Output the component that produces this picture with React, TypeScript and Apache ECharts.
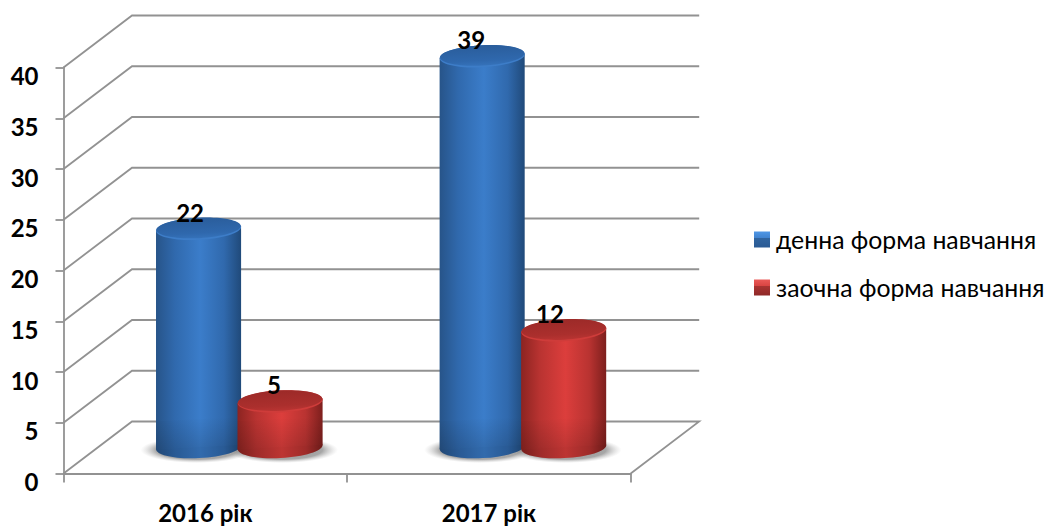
import React, { useEffect, useRef } from "react";
import * as echarts from "echarts";

const categories = ["2016 рік", "2017 рік"];
const dayStudy = [22, 39];
const distanceStudy = [5, 12];
const yTicks = [0, 5, 10, 15, 20, 25, 30, 35, 40];
const dayName = "денна форма навчання";
const distanceName = "заочна форма навчання";

const FONT = "Lato, 'Noto Sans', sans-serif";
const GRID_COLOR = "#929292";
const DEPTH_X = 68.5;
const DEPTH_Y = 52;
const TILT = 0.05;

const bodyGrad = (stops: string[]) => ({
  type: "linear", x: 0, y: 0, x2: 1, y2: 0,
  colorStops: [
    { offset: 0, color: stops[0] },
    { offset: 0.22, color: stops[1] },
    { offset: 0.52, color: stops[2] },
    { offset: 0.8, color: stops[1] },
    { offset: 1, color: stops[3] },
  ],
});
const vGrad = (stops: [number, string][]) => ({
  type: "linear", x: 0, y: 0, x2: 0, y2: 1,
  colorStops: stops.map(([offset, color]) => ({ offset, color })),
});

const palettes = [
  {
    body: bodyGrad(["#275489", "#3069ad", "#3b7dca", "#204a7a"]),
    top: vGrad([[0, "#2a5d9b"], [0.75, "#2f68ad"], [1, "#3572ba"]]),
    rim: "#3d7dc8",
    icon: vGrad([[0, "#4f97e6"], [0.42, "#3f82cf"], [0.43, "#30649f"], [1, "#2a5a94"]]),
  },
  {
    body: bodyGrad(["#8c2421", "#b93331", "#dc3e3c", "#7d1f1d"]),
    top: vGrad([[0, "#9c2a28"], [0.75, "#ab2f2d"], [1, "#b93432"]]),
    rim: "#cf3c3a",
    icon: vGrad([[0, "#ea5a58"], [0.42, "#d84341"], [0.43, "#a83331"], [1, "#8f2928"]]),
  },
];

const labelNudge = [[-8.5, -11], [-6, -13.7]];
const barShift = [-40.75, 40.75];

function cylinderRenderer(seriesIdx: number) {
  return (params: any, api: any) => {
    const cat = api.value(0);
    const v = api.value(1);
    const band = api.size([1, 0])[0];
    const rx = band * 0.15;
    const ry = 11;
    const c0 = api.coord([cat, 0]);
    const c1 = api.coord([cat, v]);
    const cx = c0[0] + 34 + barShift[seriesIdx];
    const yBot = c0[1] - 26.5;
    const yTop = c1[1] - 22;
    const d = rx * Math.sin(TILT);
    const p = palettes[seriesIdx];
    const tilted = (cy: number) => ({ rotation: TILT, originX: cx, originY: cy });
    const fadeTop = Math.max(yTop + ry, yBot - 28);
    const children: any[] = [
      { type: "ellipse", ...tilted(yBot), shape: { cx, cy: yBot, rx, ry }, style: { fill: p.body } },
      { type: "ellipse", ...tilted(yBot), shape: { cx, cy: yBot, rx, ry }, style: { fill: "rgba(0,0,0,0.14)" } },
      {
        type: "polygon",
        shape: { points: [[cx - rx, yTop + d], [cx + rx, yTop - d], [cx + rx, yBot - d], [cx - rx, yBot + d]] },
        style: { fill: p.body },
      },
      {
        type: "polygon",
        shape: { points: [[cx - rx, fadeTop + d], [cx + rx, fadeTop - d], [cx + rx, yBot - d], [cx - rx, yBot + d]] },
        style: { fill: vGrad([[0, "rgba(0,0,0,0)"], [1, "rgba(0,0,0,0.14)"]]) },
      },
      { type: "ellipse", ...tilted(yTop), shape: { cx, cy: yTop + 0.6, rx, ry }, style: { fill: p.rim } },
      { type: "ellipse", ...tilted(yTop), shape: { cx, cy: yTop - 0.3, rx: rx - 0.3, ry: ry - 0.8 }, style: { fill: p.top } },
      {
        type: "text",
        style: {
          x: cx + labelNudge[seriesIdx][params.dataIndex],
          y: yTop - ry - 5,
          text: String(v),
          fill: "#000",
          font: `bold 24px ${FONT}`,
          textAlign: "center",
          textVerticalAlign: "middle",
        },
      },
    ];
    return { type: "group", children };
  };
}

function shadowRenderer(seriesIdx: number) {
  return (_p: any, api: any) => {
    const cat = api.value(0);
    const c0 = api.coord([cat, 0]);
    const cx = c0[0] + 34 + barShift[seriesIdx];
    const extend = seriesIdx === 0 ? -2 : 2;
    return {
      type: "ellipse",
      shape: { cx: cx + extend, cy: c0[1] - 23.5, rx: 56, ry: 13 },
      style: {
        fill: {
          type: "radial", x: 0.5, y: 0.5, r: 0.5,
          colorStops: [
            { offset: 0, color: "rgba(90,90,90,0.7)" },
            { offset: 0.72, color: "rgba(95,95,95,0.55)" },
            { offset: 1, color: "rgba(170,170,170,0)" },
          ],
        },
      },
    };
  };
}

function wallRenderer(params: any, api: any) {
  const cs = params.coordSys;
  const y = api.coord([0, api.value(0)])[1];
  const x0 = cs.x;
  const x1 = cs.x + cs.width;
  const points = [[x0, y], [x0 + DEPTH_X, y - DEPTH_Y], [x1 + DEPTH_X, y - DEPTH_Y]];
  if (api.value(0) === 0) points.push([x1, y]);
  return { type: "polyline", shape: { points }, style: { stroke: GRID_COLOR, lineWidth: 1.8, fill: "none" } };
}

export default function App() {
  const ref = useRef<HTMLDivElement>(null);
  useEffect(() => {
    document.body.style.margin = "0";
    const chart = echarts.init(ref.current!, undefined, { renderer: "svg" });
    const toPairs = (arr: number[]) => arr.map((v, i) => [i, v]);
    const axisLine = { show: true, lineStyle: { color: GRID_COLOR, width: 1.8 } };
    chart.setOption({
      animation: false,
      backgroundColor: "#fff",
      grid: { left: 63.5, right: 1048 - 630.7, top: 67.5, bottom: 526 - 473.5, containLabel: false },
      legend: {
        orient: "vertical",
        left: 754,
        top: 223,
        padding: 0,
        itemWidth: 16,
        itemHeight: 16,
        itemGap: 15,
        selectedMode: false,
        textStyle: { fontFamily: FONT, fontSize: 24.8, color: "#000", lineHeight: 24, padding: [9, 0, 0, 1] },
        data: [
          { name: dayName, icon: "rect", itemStyle: { color: palettes[0].icon } },
          { name: distanceName, icon: "rect", itemStyle: { color: palettes[1].icon } },
        ],
      },
      xAxis: {
        type: "category",
        data: categories,
        axisLine,
        axisTick: { show: true, length: 9, alignWithLabel: false, lineStyle: { color: GRID_COLOR, width: 1.8 } },
        axisLabel: { margin: 27, fontFamily: FONT, fontWeight: "bold", fontSize: 24, color: "#000" },
        splitLine: { show: false },
      },
      yAxis: {
        type: "value",
        min: 0,
        max: 40,
        interval: 5,
        axisLine,
        axisTick: { show: true, length: 8, lineStyle: { color: GRID_COLOR, width: 1.8 } },
        axisLabel: { margin: 25, fontFamily: FONT, fontWeight: "bold", fontSize: 24, color: "#000", verticalAlign: "top", lineHeight: 16 },
        splitLine: { show: false },
      },
      series: [
        { type: "custom", name: "walls", z: 1, silent: true, clip: false, data: yTicks.map((t) => [t]), encode: { y: 0 }, renderItem: wallRenderer },
        { type: "custom", name: "shadowA", z: 2, silent: true, clip: false, data: toPairs(dayStudy), encode: { x: 0, y: 1 }, renderItem: shadowRenderer(0) },
        { type: "custom", name: "shadowB", z: 2, silent: true, clip: false, data: toPairs(distanceStudy), encode: { x: 0, y: 1 }, renderItem: shadowRenderer(1) },
        { type: "custom", name: dayName, z: 3, clip: false, data: toPairs(dayStudy), encode: { x: 0, y: 1 }, itemStyle: { color: "#3b7dca" }, renderItem: cylinderRenderer(0) },
        { type: "custom", name: distanceName, z: 4, clip: false, data: toPairs(distanceStudy), encode: { x: 0, y: 1 }, itemStyle: { color: "#dc3e3c" }, renderItem: cylinderRenderer(1) },
      ],
    });
    return () => chart.dispose();
  }, []);
  return <div ref={ref} style={{ width: 1048, height: 526, position: "absolute", left: 0, top: 0 }} />;
}
